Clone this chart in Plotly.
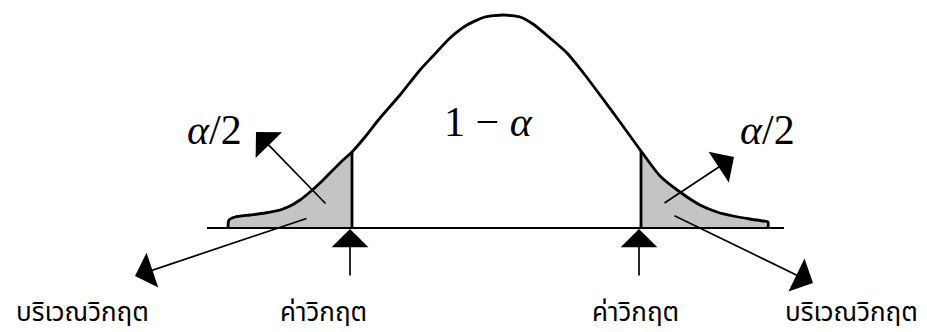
import plotly.graph_objects as go

# Curve (pixel coordinates, y grows downward)
curve_x = [228, 229, 235, 250, 265, 280, 290, 300, 310, 320, 333, 342, 352, 365, 380, 400, 420,
           433, 450, 467, 485, 503, 520, 533, 550, 567, 585, 600, 620, 641, 660, 680, 700,
           717, 733, 750, 763, 768, 768]
curve_y = [228, 220, 217, 215, 213, 210, 206, 200, 192, 183, 170, 161, 152, 137, 118, 95, 70,
           56, 38, 25, 17, 15, 17, 24, 38, 53, 75, 95, 122, 151, 176, 192, 205,
           212, 216, 219, 221, 222, 228]

crit_x = [352, 641]
base_y = 228
base_x = [207, 784]

region_label = "บริเวณวิกฤต"
crit_label = "ค่าวิกฤต"
alpha_half = "<i>α</i>/2"
one_minus_alpha = "1 − <i>α</i>"

fig = go.Figure()

# shaded tails
lx = [x for x in curve_x if x <= crit_x[0]]
ly = [y for x, y in zip(curve_x, curve_y) if x <= crit_x[0]]
fig.add_trace(go.Scatter(x=lx + [crit_x[0], crit_x[0], lx[0]], y=ly + [ly[-1], base_y, base_y],
                         fill="toself", fillcolor="#c4c4c4", mode="none", hoverinfo="skip"))
rx = [x for x in curve_x if x >= crit_x[1]]
ry = [y for x, y in zip(curve_x, curve_y) if x >= crit_x[1]]
fig.add_trace(go.Scatter(x=[crit_x[1]] + rx + [crit_x[1]], y=[ry[0]] + ry + [base_y],
                         fill="toself", fillcolor="#c4c4c4", mode="none", hoverinfo="skip"))

# baseline
fig.add_trace(go.Scatter(x=base_x, y=[base_y, base_y], mode="lines",
                         line=dict(color="black", width=2), hoverinfo="skip"))
# curve
fig.add_trace(go.Scatter(x=curve_x, y=curve_y, mode="lines",
                         line=dict(color="black", width=2.8, shape="spline", smoothing=0.6),
                         hoverinfo="skip"))
# critical verticals
for cx, cy in [(crit_x[0], ly[-1]), (crit_x[1], ry[0])]:
    fig.add_trace(go.Scatter(x=[cx, cx], y=[cy, base_y], mode="lines",
                             line=dict(color="black", width=2.8), hoverinfo="skip"))

# arrows: (tail x, tail y, tip x, tip y)
arrows = [
    (327, 205, 256, 132),
    (663, 204, 734, 157),
    (308, 218, 135, 276),
    (673, 215, 813, 283),
    (350, 277, 350, 229),
    (639, 277, 639, 229),
]
for tx, ty, hx, hy in arrows:
    fig.add_annotation(x=hx, y=hy, ax=tx, ay=ty, xref="x", yref="y", axref="x", ayref="y",
                       text="", showarrow=True, arrowhead=1, arrowsize=3.6, arrowwidth=1.7,
                       arrowcolor="black", standoff=0)

thai_font = dict(family="Noto Sans Thai, Noto Sans, sans-serif", size=26, color="black")
for x, t in [(82, region_label), (323, crit_label), (635, crit_label), (851, region_label)]:
    fig.add_annotation(x=x, y=313, text=t, showarrow=False, font=thai_font,
                       xanchor="center", yanchor="middle")

math_font = dict(family="Liberation Serif, Times New Roman, serif", size=42, color="black")
fig.add_annotation(x=214, y=130, text=alpha_half, showarrow=False, font=math_font)
fig.add_annotation(x=767, y=130, text=alpha_half, showarrow=False, font=math_font)
fig.add_annotation(x=488, y=122, text=one_minus_alpha, showarrow=False, font=math_font)

fig.update_layout(width=927, height=332, margin=dict(l=0, r=0, t=0, b=0),
                  paper_bgcolor="white", plot_bgcolor="white", showlegend=False,
                  xaxis=dict(range=[0, 927], visible=False, fixedrange=True),
                  yaxis=dict(range=[332, 0], visible=False, fixedrange=True))
fig.write_html("out.html", config={"displayModeBar": False},
               post_script="document.body.style.margin='0';document.body.style.overflow='hidden';")
